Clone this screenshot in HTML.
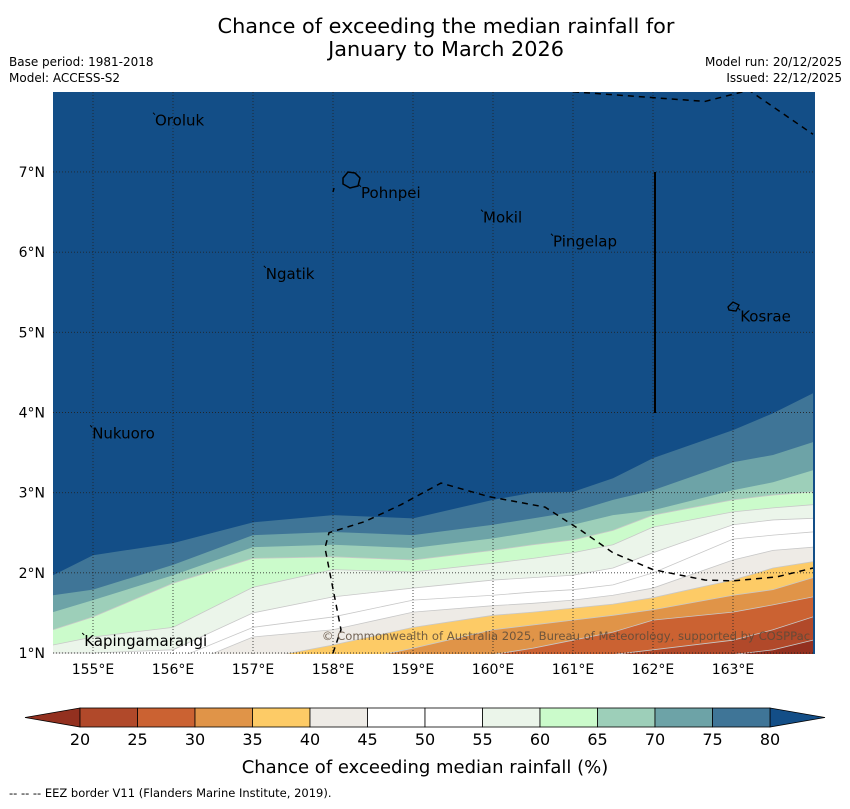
<!DOCTYPE html>
<html><head><meta charset="utf-8">
<style>
body{margin:0;background:#fff;width:850px;height:804px;overflow:hidden;font-family:"Liberation Sans","DejaVu Sans",sans-serif;}
svg text{font-family:"DejaVu Sans","Liberation Sans",sans-serif;}
</style></head>
<body>
<svg id="chart" width="850" height="804" xmlns="http://www.w3.org/2000/svg">
<text x="446" y="33" text-anchor="middle" font-size="20.8">Chance of exceeding the median rainfall for</text>
<text x="446" y="56" text-anchor="middle" font-size="20.8">January to March 2026</text>
<text x="9" y="66" font-size="12">Base period: 1981-2018</text>
<text x="9" y="82" font-size="12">Model: ACCESS-S2</text>
<text x="842" y="66" font-size="12" text-anchor="end">Model run: 20/12/2025</text>
<text x="842" y="82" font-size="12" text-anchor="end">Issued: 22/12/2025</text>
<defs><clipPath id="plotclip"><rect x="53" y="92" width="762" height="562"/></clipPath></defs>
<g id="plot" clip-path="url(#plotclip)"></g>
<g id="axes"></g>
<g id="cbar"></g>
<text x="425" y="773" text-anchor="middle" font-size="18">Chance of exceeding median rainfall (%)</text>
<text x="9" y="797" font-size="11.5">--  --  -- EEZ border V11 (Flanders Marine Institute, 2019).</text>
</svg>
<script>
// ---- data ----
const lons = [154.5,155,156,157,158,159,160,160.5,161,161.5,162,163,163.5,164];
const levels = [80,75,70,65,60,55,50,45,40,35,30,25,20];
const b80 = [1.97,2.22,2.37,2.63,2.72,2.68,2.91,3.00,3.01,3.18,3.43,3.78,3.99,4.24];
const b75 = [1.72,1.79,2.10,2.47,2.51,2.47,2.60,2.68,2.76,2.91,3.03,3.38,3.47,3.63];
const b70 = [1.51,1.66,1.97,2.32,2.35,2.31,2.43,2.51,2.60,2.72,2.78,3.03,3.13,3.28];
const b65 = [1.29,1.45,1.87,2.18,2.20,2.16,2.28,2.35,2.41,2.53,2.72,2.91,2.97,3.01];
const b60 = [1.10,1.20,1.32,1.82,2.04,2.01,2.12,2.18,2.25,2.35,2.57,2.76,2.81,2.85];
const b55 = [1.00,1.00,1.04,1.50,1.70,1.81,1.91,1.94,1.97,2.06,2.25,2.60,2.66,2.68];
const b50 = [0.79,0.85,0.91,1.32,1.45,1.66,1.72,1.76,1.79,1.85,2.00,2.42,2.47,2.51];
const b45 = [0.54,0.66,0.79,1.20,1.29,1.51,1.59,1.62,1.66,1.72,1.81,2.16,2.28,2.32];
const b40 = [0.29,0.41,0.54,0.91,1.10,1.32,1.47,1.51,1.56,1.61,1.69,1.91,2.06,2.14];
const b35 = [0.04,0.16,0.29,0.54,0.85,1.06,1.29,1.35,1.41,1.47,1.54,1.72,1.79,1.94];
const b30 = [-0.21,-0.08,0.04,0.29,0.54,0.79,0.98,1.06,1.16,1.26,1.41,1.51,1.60,1.70];
const b25 = [-0.46,-0.33,-0.21,0.04,0.26,0.48,0.66,0.76,0.85,0.98,1.04,1.16,1.29,1.45];
const b20 = [-0.71,-0.58,-0.46,-0.21,-0.08,0.16,0.35,0.48,0.60,0.73,0.81,0.98,1.04,1.16];
const boundaries = [b80,b75,b70,b65,b60,b55,b50,b45,b40,b35,b30,b25,b20];
const bandColors = ["#134e87","#3f7597","#6da3a7","#9dcfb9","#cbfbcb","#ebf5ea","#ffffff","#ffffff","#eeebe6","#fdcb66","#e09448","#cb6232","#b1492a","#93301f"];
const cbarTicks = [20,25,30,35,40,45,50,55,60,65,70,75,80];
const lonTicks = [155,156,157,158,159,160,161,162,163];
const latTicks = [1,2,3,4,5,6,7];
const places = ["Oroluk","Pohnpei","Mokil","Pingelap","Ngatik","Kosrae","Nukuoro","Kapingamarangi"];
const placeLon = [155.775,158.35,159.875,160.75,157.16,163.09,154.99,154.89];
const placeLat = [7.64,6.74,6.43,6.13,5.73,5.20,3.74,1.15];
const eezA_lon = [161.0,162.65,163.2,164.0];
const eezA_lat = [8.0,7.88,8.02,7.47];
const eezB_lon = [158.0,158.1,157.9,157.95,158.4,158.85,159.35,159.95,160.65,161.1,161.5,162.0,162.65,163.0,163.55,164.0];
const eezB_lat = [1.0,1.29,2.31,2.5,2.64,2.85,3.12,2.95,2.82,2.53,2.25,2.04,1.91,1.9,1.95,2.06];

// ---- scales ----
const X = lon => 53 + (lon - 154.5) * 80;
const Y = lat => 653 - (lat - 1) * 80.17;
const NS = "http://www.w3.org/2000/svg";
function mk(tag, attrs, parent){const e=document.createElementNS(NS,tag);for(const k in attrs)e.setAttribute(k,attrs[k]);parent.appendChild(e);return e;}
const plot=document.getElementById('plot');
const axes=document.getElementById('axes');
const cbar=document.getElementById('cbar');

const bg=mk('rect',{x:53,y:92,width:762,height:562,fill:bandColors[0]},plot);



boundaries.forEach((b,i)=>{
  let d='M'+X(lons[0])+','+Y(b[0]);
  for(let j=1;j<lons.length;j++) d+=' L'+X(lons[j])+','+Y(b[j]);
  d+=' L'+X(lons[lons.length-1])+',720 L'+X(lons[0])+',720 Z';
  const p=mk('path',{d:d,fill:bandColors[i+1],stroke:'none'},plot);
  
  
  if(levels[i]<=65){
    let l='M'+X(lons[0])+','+Y(b[0]);
    for(let j=1;j<lons.length;j++) l+=' L'+X(lons[j])+','+Y(b[j]);
    const ln=mk('path',{d:l,fill:'none',stroke:'#c8c8c8','stroke-width':0.8},plot);
    
    
  }
});

lonTicks.forEach(v=>{
  const g=mk('line',{x1:X(v),x2:X(v),y1:92,y2:654,stroke:'#222','stroke-width':0.9,'stroke-dasharray':'1,2','stroke-opacity':0.9},plot);
  
  
  const t=mk('text',{x:X(v),y:674,'text-anchor':'middle','font-size':14},axes);
  t.textContent=v+'°E';
  
  
});
latTicks.forEach(v=>{
  const g=mk('line',{x1:53,x2:815,y1:Y(v),y2:Y(v),stroke:'#222','stroke-width':0.9,'stroke-dasharray':'1,2','stroke-opacity':0.9},plot);
  
  
  const t=mk('text',{x:45,y:Y(v)+5,'text-anchor':'end','font-size':14},axes);
  t.textContent=v+'°N';
  
  
});

function dashed(lo,la,name){
  let d='M'+X(lo[0])+','+Y(la[0]);
  for(let j=1;j<lo.length;j++) d+=' L'+X(lo[j])+','+Y(la[j]);
  const p=mk('path',{d:d,fill:'none',stroke:'#000','stroke-width':1.5,'stroke-dasharray':'6,5'},plot);
  
  
}
dashed(eezA_lon,eezA_lat,'eez-border-north');
dashed(eezB_lon,eezB_lat,'eez-border-south');
const vl=mk('line',{x1:655,x2:655,y1:172,y2:413,stroke:'#000','stroke-width':2},plot);



const pi=mk('path',{d:'M343,178 L348,172 L355,173 L360,178 L358,186 L350,188 L343,184 Z M334,188 L333,192',fill:'none',stroke:'#000','stroke-width':1.5},plot);


const ki=mk('path',{d:'M728,307 L733,302 L739,305 L736,311 L729,310 Z',fill:'none',stroke:'#000','stroke-width':1.3},plot);



places.forEach((n,i)=>{
  const tx=X(placeLon[i]), ty=Y(placeLat[i])+5;
  const t=mk('text',{x:tx,y:ty,'font-size':15},plot);
  t.textContent=n;
  
  
  const m=mk('line',{x1:tx-2,y1:ty-13,x2:tx,y2:ty-11,stroke:'#000','stroke-width':1},plot);
  
  
});
const cp=mk('text',{x:566,y:640,'text-anchor':'middle','font-size':11.6,fill:'#5a4a3a','fill-opacity':0.85},plot);
cp.textContent='© Commonwealth of Australia 2025, Bureau of Meteorology, supported by COSPPac';



const cx0=80, cw=690, cy=708, ch=19;
const seg=cw/(cbarTicks.length-1);
const lt=mk('path',{d:`M${cx0},${cy} L25,${cy+ch/2} L${cx0},${cy+ch} Z`,fill:bandColors[13],stroke:'#000','stroke-width':0.8},cbar);


const rt=mk('path',{d:`M${cx0+cw},${cy} L825,${cy+ch/2} L${cx0+cw},${cy+ch} Z`,fill:bandColors[0],stroke:'#000','stroke-width':0.8},cbar);


for(let i=0;i<cbarTicks.length-1;i++){
  const r=mk('rect',{x:cx0+i*seg,y:cy,width:seg,height:ch,fill:bandColors[12-i],stroke:'#000','stroke-width':0.8},cbar);
  
  
}
cbarTicks.forEach((v,i)=>{
  const t=mk('text',{x:cx0+i*seg,y:745,'text-anchor':'middle','font-size':16},cbar);
  t.textContent=v;
  
  
});
</script>
</body></html>
